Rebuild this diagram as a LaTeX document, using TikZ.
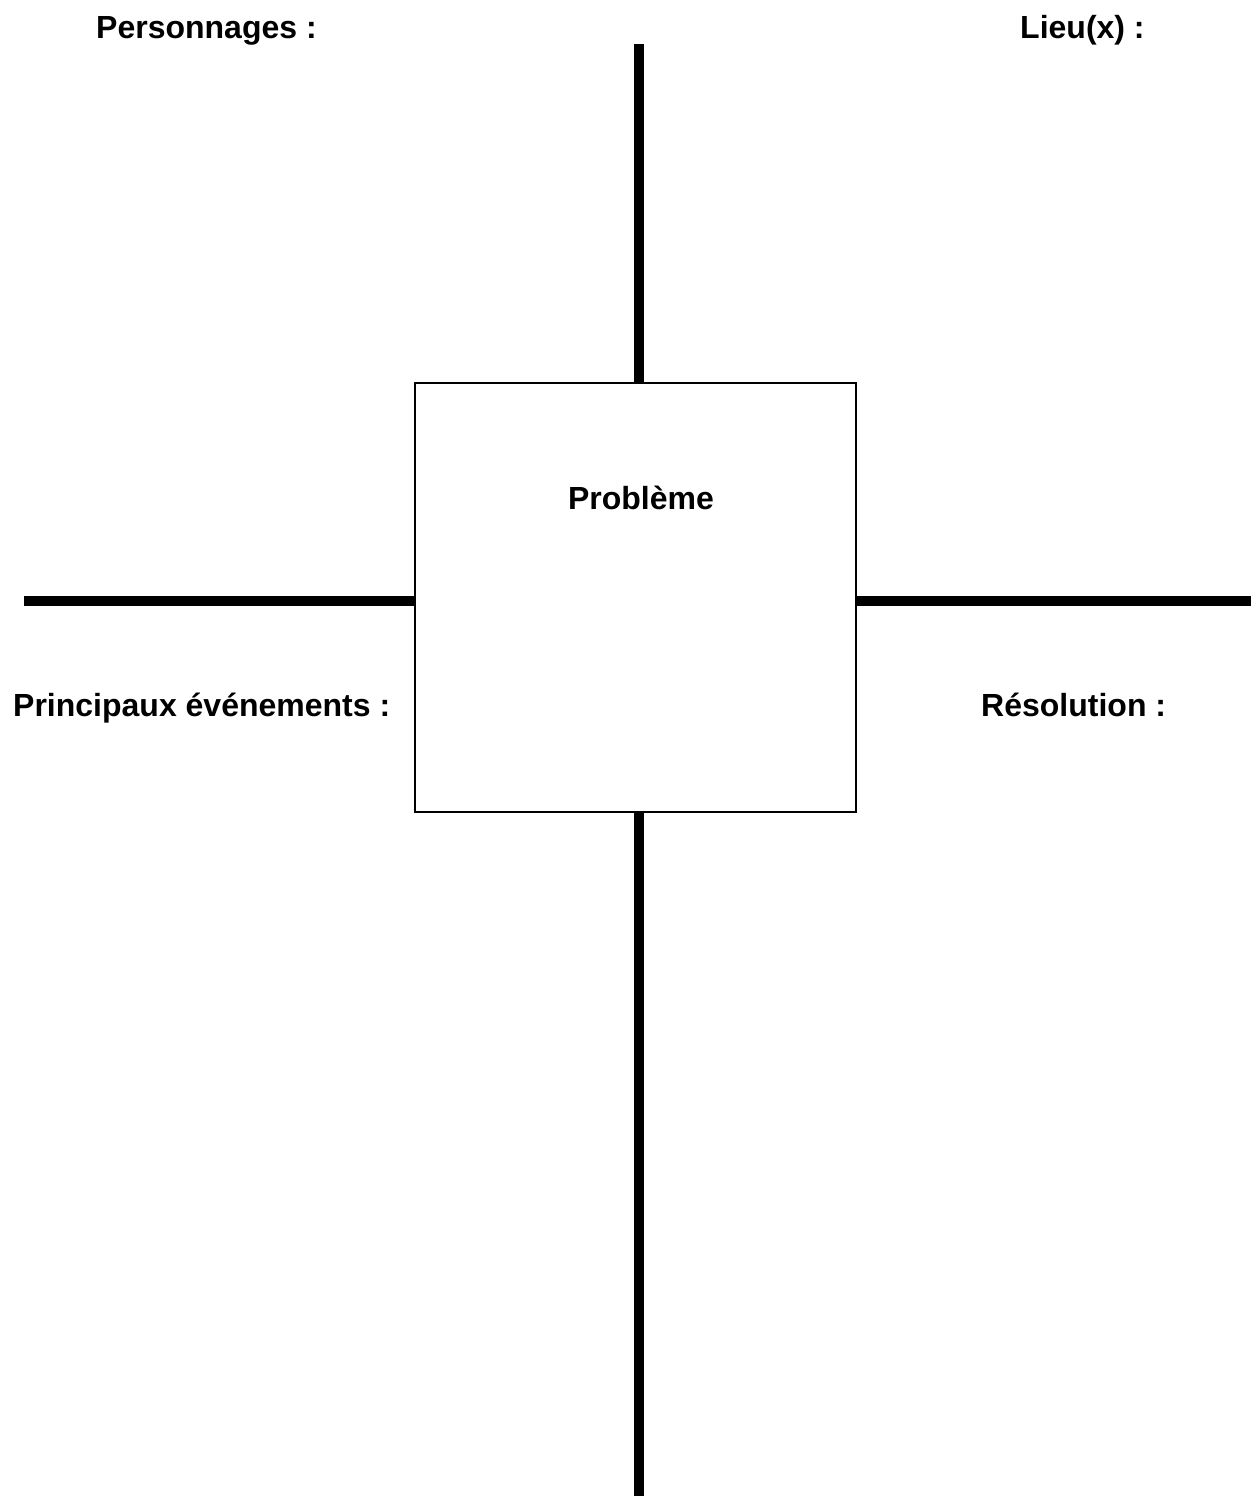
\documentclass[tikz,border=0pt]{standalone}
\usepackage{fontspec}
\setmainfont{Liberation Sans}
\begin{document}
\begin{tikzpicture}[x=1pt,y=-1pt,
  lbl/.style={inner sep=0pt,font=\fontsize{32}{38}\selectfont\bfseries},
  bar/.style={line width=10pt,black},
  boxst/.style={draw=black,line width=2pt,fill=white,inner sep=0pt,outer sep=0pt}]
\useasboundingbox (0,0) rectangle (1251,1496);
\coordinate (top) at (639,44);
\coordinate (bot) at (639,1496);
\coordinate (lft) at (24,601);
\coordinate (rgt) at (1251,601);
\node[boxst,minimum width=441pt,minimum height=429pt] (box) at (635.5,597.5) {};
\draw[bar] (top) -- (top |- box.north);
\draw[bar] (box.south -| bot) -- (bot);
\draw[bar] (lft) -- (lft -| box.west);
\draw[bar] (box.east |- rgt) -- (rgt);
\node[lbl,anchor=base west] (pers) at (96,39) {Personnages :};
\node[lbl,anchor=base west] (lieu) at (1020,39) {Lieu(x) :};
\node[lbl,anchor=base] (prob) at (641,509) {Problème};
\node[lbl,anchor=base west] (evt) at (13,716) {Principaux événements :};
\node[lbl,anchor=base west] (res) at (981,716) {Résolution :};
\end{tikzpicture}
\end{document}
